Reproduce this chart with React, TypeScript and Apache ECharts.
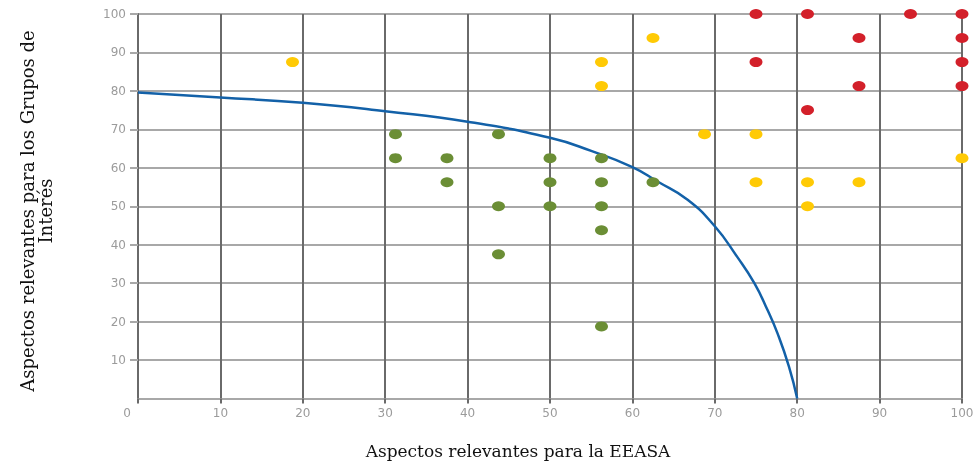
import React, { useEffect, useRef } from "react";
import * as echarts from "echarts";

const xTicks = [0, 10, 20, 30, 40, 50, 60, 70, 80, 90, 100];

const redPoints: [number, number][] = [
  [75, 100], [81.25, 100], [93.75, 100], [100, 100],
  [87.5, 93.75], [100, 93.75],
  [75, 87.5], [100, 87.5],
  [87.5, 81.25], [100, 81.25],
  [81.25, 75],
];

const yellowPoints: [number, number][] = [
  [18.75, 87.5], [62.5, 93.75], [56.25, 87.5], [56.25, 81.25],
  [68.75, 68.75], [75, 68.75], [100, 62.5],
  [75, 56.25], [81.25, 56.25], [87.5, 56.25], [81.25, 50],
];

const greenPoints: [number, number][] = [
  [31.25, 68.75], [43.75, 68.75],
  [31.25, 62.5], [37.5, 62.5], [50, 62.5], [56.25, 62.5],
  [37.5, 56.25], [50, 56.25], [56.25, 56.25], [62.5, 56.25],
  [43.75, 50], [50, 50], [56.25, 50],
  [56.25, 43.75], [43.75, 37.5], [56.25, 18.75],
];

const curvePoints: [number, number][] = [
  [0, 79.6], [10, 78.3], [20, 76.9], [30, 74.7], [40, 72], [50, 67.8],
  [55, 64.4], [60, 60.2], [63, 56.5], [66.7, 51.7], [70, 44.8], [72.7, 36.9],
  [74.8, 30], [76.4, 23], [77.6, 17], [79, 8.3], [80, 0],
];

const labelFont = { color: "#9b9b9b", fontFamily: "DejaVu Sans", fontSize: 12 };

export default function App() {
  const ref = useRef<HTMLDivElement>(null);
  useEffect(() => {
    if (!ref.current) return;
    const chart = echarts.init(ref.current, null, { renderer: "svg" });
    const dot = { symbol: "circle", symbolSize: [13, 10] };
    chart.setOption({
      animation: false,
      grid: { left: 138, right: 17, top: 14, bottom: 64.5, containLabel: false },
      xAxis: {
        type: "value",
        min: 0,
        max: 100,
        interval: 10,
        axisLine: { show: true, lineStyle: { color: "#a8a8a8", width: 2 } },
        axisTick: { show: true, length: 5, lineStyle: { color: "#6a6a6a", width: 2 } },
        splitLine: { show: true, lineStyle: { color: "#6a6a6a", width: 2 } },
        axisLabel: {
          ...labelFont,
          margin: 8,
          formatter: (v: number) => (v === 0 ? "{z|0}" : String(v)),
          rich: { z: { ...labelFont, padding: [0, 22, 0, 0] } },
        },
        data: xTicks,
      },
      yAxis: {
        type: "value",
        min: 0,
        max: 100,
        interval: 10,
        axisLine: { show: true, onZero: false, lineStyle: { color: "#6a6a6a", width: 2 } },
        axisTick: { show: true, length: 8, lineStyle: { color: "#a8a8a8", width: 2 } },
        splitLine: { show: true, lineStyle: { color: "#a8a8a8", width: 2 } },
        axisLabel: { ...labelFont, margin: 12, showMinLabel: false },
      },
      series: [
        {
          type: "line",
          data: curvePoints,
          smooth: 0.5,
          showSymbol: false,
          lineStyle: { color: "#1361a8", width: 2.5 },
          z: 3,
        },
        { type: "scatter", data: greenPoints, ...dot, itemStyle: { color: "#6b8e35", opacity: 1 }, z: 4 },
        { type: "scatter", data: yellowPoints, ...dot, itemStyle: { color: "#ffca05", opacity: 1 }, z: 4 },
        { type: "scatter", data: redPoints, ...dot, itemStyle: { color: "#d3202a", opacity: 1 }, z: 4 },
      ],
      graphic: [
        {
          type: "text",
          x: 518,
          y: 451,
          style: {
            text: "Aspectos relevantes para la EEASA",
            font: '17px "DejaVu Serif"',
            fill: "#111",
            align: "center",
            verticalAlign: "middle",
          },
        },
        {
          type: "text",
          x: 36,
          y: 211,
          rotation: Math.PI / 2,
          style: {
            text: "Aspectos relevantes para los Grupos de\nInterés",
            font: '18px "DejaVu Serif"',
            fill: "#111",
            align: "center",
            verticalAlign: "middle",
            lineHeight: 18,
          },
        },
      ],
    });
    return () => chart.dispose();
  }, []);
  return (
    <div
      ref={ref}
      style={{ position: "fixed", left: 0, top: 0, width: 979, height: 463 }}
    />
  );
}
